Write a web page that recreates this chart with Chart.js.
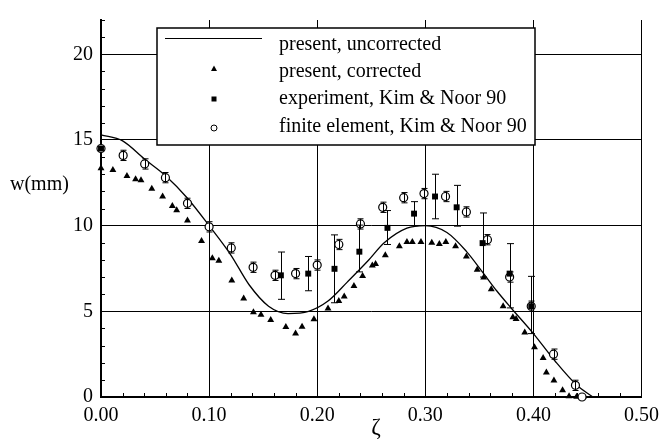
<!DOCTYPE html>
<html>
<head>
<meta charset="utf-8">
<script src="https://cdn.jsdelivr.net/npm/chart.js@4.4.1/dist/chart.umd.min.js"></script>
<style>
  html, body { margin: 0; padding: 0; background: #fff; }
  canvas { display: block; }
</style>
</head>
<body>
<canvas id="c" width="666" height="440"></canvas>
<script>
// ---- data ----
const xTickLabels = ['0.00', '0.10', '0.20', '0.30', '0.40', '0.50'];
const yTickValues = [0, 5, 10, 15, 20];

// present, uncorrected (solid line)
const xLine = [0.000, 0.020, 0.040, 0.060, 0.080, 0.100, 0.120, 0.137, 0.155, 0.173, 0.192, 0.210, 0.228, 0.247, 0.262, 0.283, 0.300, 0.320, 0.338, 0.354, 0.366, 0.380, 0.400, 0.420, 0.440, 0.455];
const yLine = [15.3, 14.95, 13.9, 12.9, 11.6, 10.0, 8.3, 6.55, 5.3, 4.87, 5.0, 5.6, 6.72, 7.95, 9.0, 9.85, 10.0, 9.6, 8.5, 7.2, 6.2, 5.15, 3.7, 2.1, 0.7, 0.0];

// present, corrected (triangles)
const xCorr = [0.000, 0.011, 0.024, 0.032, 0.037, 0.047, 0.057, 0.066, 0.070, 0.080, 0.093, 0.103, 0.109, 0.121, 0.132, 0.141, 0.148, 0.157, 0.171, 0.180, 0.186, 0.197, 0.210, 0.220, 0.225, 0.234, 0.242, 0.251, 0.254, 0.263, 0.276, 0.283, 0.288, 0.296, 0.306, 0.313, 0.319, 0.328, 0.338, 0.348, 0.354, 0.361, 0.372, 0.381, 0.384, 0.392, 0.401, 0.409, 0.412, 0.419, 0.427, 0.433, 0.440, 0.446];
const yCorr = [13.35, 13.25, 12.9, 12.7, 12.65, 12.15, 11.7, 11.15, 10.9, 10.3, 9.1, 8.1, 7.95, 6.8, 5.75, 4.95, 4.8, 4.5, 4.08, 3.7, 4.1, 4.53, 5.17, 5.6, 5.87, 6.48, 7.06, 7.67, 7.76, 8.27, 8.8, 9.05, 9.05, 9.05, 9.0, 8.93, 9.05, 8.8, 8.2, 7.42, 6.97, 6.29, 5.3, 4.65, 4.55, 3.76, 2.9, 2.28, 1.43, 0.96, 0.4, 0.05, 0.02, 0.0];

// experiment, Kim & Noor 90 (squares with error bars)
const xExp = [0.000, 0.1664, 0.1917, 0.216, 0.239, 0.265, 0.2896, 0.309, 0.329, 0.353, 0.378, 0.398];
const yExp = [14.5, 7.1, 7.2, 7.48, 8.48, 9.87, 10.7, 11.7, 11.07, 8.98, 7.2, 5.3];
const expLow = [14.5, 5.7, 6.2, 5.5, 7.3, 8.9, 10.0, 10.4, 9.97, 7.0, 5.2, 3.7];
const expHigh = [14.5, 8.46, 8.2, 9.46, 10.03, 10.88, 11.4, 13.0, 12.35, 10.74, 8.95, 7.04];

// finite element, Kim & Noor 90 (open circles with small error bars)
const xFE = [0.000, 0.0205, 0.0404, 0.0596, 0.080, 0.100, 0.1205, 0.1407, 0.161, 0.180, 0.200, 0.220, 0.240, 0.2606, 0.280, 0.2988, 0.3187, 0.338, 0.3575, 0.378, 0.398, 0.4186, 0.4389, 0.445];
const yFE = [14.5, 14.1, 13.6, 12.8, 11.3, 9.93, 8.7, 7.57, 7.1, 7.2, 7.7, 8.9, 10.1, 11.07, 11.63, 11.87, 11.7, 10.8, 9.18, 7.0, 5.3, 2.5, 0.68, 0.0];
const feErr = [0, 0.3, 0.3, 0.3, 0.3, 0.3, 0.3, 0.3, 0.3, 0.3, 0.3, 0.3, 0.3, 0.3, 0.3, 0.3, 0.3, 0.3, 0.3, 0.3, 0.3, 0.3, 0.3, 0];

const legendLabels = ['present, uncorrected', 'present, corrected', 'experiment, Kim & Noor 90', 'finite element, Kim & Noor 90'];
const yTitle = 'w(mm)';
const xTitle = 'ζ';

// ---- helpers ----
const pts = (xs, ys) => xs.map((x, i) => ({ x: x, y: ys[i] }));
const FONT = "'Liberation Serif', 'Times New Roman', Times, 'DejaVu Serif', serif";

const errorBars = {
  id: 'errorBars',
  afterDatasetsDraw(chart) {
    const ctx = chart.ctx, xs = chart.scales.x, ys = chart.scales.y;
    ctx.save();
    ctx.strokeStyle = '#000';
    ctx.lineWidth = 1;
    const bar = (x, lo, hi, cap) => {
      const px = Math.round(xs.getPixelForValue(x)) + 0.5;
      const p1 = ys.getPixelForValue(lo), p2 = ys.getPixelForValue(hi);
      ctx.beginPath();
      ctx.moveTo(px, p1); ctx.lineTo(px, p2);
      ctx.moveTo(px - cap, p1); ctx.lineTo(px + cap, p1);
      ctx.moveTo(px - cap, p2); ctx.lineTo(px + cap, p2);
      ctx.stroke();
    };
    xExp.forEach((x, i) => { if (expHigh[i] > expLow[i]) bar(x, expLow[i], expHigh[i], 3.5); });
    xFE.forEach((x, i) => { if (feErr[i] > 0) bar(x, yFE[i] - feErr[i], yFE[i] + feErr[i], 3); });
    ctx.restore();
  }
};

const decorations = {
  id: 'decorations',
  beforeDatasetsDraw(chart) {
    const ctx = chart.ctx, xs = chart.scales.x, ys = chart.scales.y, a = chart.chartArea;
    ctx.save();
    ctx.strokeStyle = '#000';
    ctx.lineWidth = 1;
    ctx.beginPath();
    // minor ticks on x axis (every 0.02), pointing up
    for (let k = 1; k < 25; k++) {
      if (k % 5 === 0) continue;
      const px = Math.round(xs.getPixelForValue(k * 0.02)) + 0.5;
      ctx.moveTo(px, a.bottom); ctx.lineTo(px, a.bottom - 4);
    }
    // minor ticks on y axis (every 1), pointing right
    for (let v = 1; v <= 22; v++) {
      if (v % 5 === 0) continue;
      const py = Math.round(ys.getPixelForValue(v)) + 0.5;
      ctx.moveTo(a.left, py); ctx.lineTo(a.left + 4, py);
    }
    ctx.stroke();
    ctx.restore();
  },
  afterDraw(chart) {
    const ctx = chart.ctx;
    ctx.save();
    // axis titles
    ctx.fillStyle = '#000';
    ctx.font = '20px ' + FONT;
    ctx.textAlign = 'left';
    ctx.textBaseline = 'alphabetic';
    ctx.fillText(yTitle, 10, 190);
    ctx.font = '23px ' + FONT;
    ctx.textAlign = 'center';
    ctx.fillText(xTitle, 376, 434);

    // legend box
    const L = 157, T = 28, R = 535, B = 145;
    ctx.fillStyle = '#fff';
    ctx.fillRect(L, T, R - L, B - T);
    ctx.strokeStyle = '#000';
    ctx.lineWidth = 1.5;
    ctx.strokeRect(L, T, R - L, B - T);

    const mx = 214;
    // line sample
    ctx.lineWidth = 1.2;
    ctx.beginPath(); ctx.moveTo(165, 38.5); ctx.lineTo(262, 38.5); ctx.stroke();
    // triangle
    ctx.fillStyle = '#000';
    ctx.beginPath();
    ctx.moveTo(mx, 65.5); ctx.lineTo(mx + 3, 71); ctx.lineTo(mx - 3, 71); ctx.closePath(); ctx.fill();
    // square
    ctx.fillRect(mx - 2.5, 96.5, 5, 5);
    // circle
    ctx.lineWidth = 1;
    ctx.beginPath(); ctx.arc(mx, 128, 3, 0, Math.PI * 2); ctx.stroke();

    ctx.font = '20px ' + FONT;
    ctx.textAlign = 'left';
    const base = [50, 77, 104, 132];
    legendLabels.forEach((t, i) => ctx.fillText(t, 279, base[i]));
    ctx.restore();
  }
};

new Chart(document.getElementById('c'), {
  type: 'scatter',
  data: {
    datasets: [
      {
        type: 'line',
        label: legendLabels[0],
        data: pts(xLine, yLine),
        borderColor: '#000',
        borderWidth: 1.3,
        pointRadius: 0,
        fill: false,
        cubicInterpolationMode: 'monotone',
        order: 4,
        clip: false
      },
      {
        label: legendLabels[1],
        data: pts(xCorr, yCorr),
        pointStyle: 'triangle',
        pointRadius: 4,
        backgroundColor: '#000',
        borderColor: '#000',
        borderWidth: 0,
        order: 3,
        clip: false
      },
      {
        label: legendLabels[2],
        data: pts(xExp, yExp),
        pointStyle: 'rect',
        pointRadius: 4.2,
        backgroundColor: '#000',
        borderColor: '#000',
        borderWidth: 0,
        order: 1,
        clip: false
      },
      {
        label: legendLabels[3],
        data: pts(xFE, yFE),
        pointStyle: 'circle',
        pointRadius: 4,
        backgroundColor: '#fff',
        borderColor: '#000',
        borderWidth: 1.2,
        order: 2,
        clip: false
      }
    ]
  },
  options: {
    responsive: false,
    animation: false,
    events: [],
    layout: { padding: { top: 8, right: 20, left: 0, bottom: 0 } },
    plugins: { legend: { display: false }, tooltip: { enabled: false } },
    scales: {
      x: {
        type: 'linear',
        min: 0, max: 0.5,
        afterFit: s => { s.height = 43; },
        afterBuildTicks: s => { s.ticks = xTickLabels.map(t => ({ value: parseFloat(t) })); },
        ticks: {
          callback: (v, i) => xTickLabels[i],
          color: '#000',
          font: { family: FONT, size: 20 },
          padding: 7,
          maxRotation: 0,
          autoSkip: false
        },
        grid: { color: '#000', lineWidth: 1, drawTicks: false },
        border: { display: true, color: '#000', width: 2 }
      },
      y: {
        type: 'linear',
        min: 0, max: 22,
        afterFit: s => { s.width = 101; },
        afterBuildTicks: s => { s.ticks = yTickValues.map(v => ({ value: v })); },
        ticks: {
          callback: v => String(v),
          color: '#000',
          font: { family: FONT, size: 20 },
          padding: 8,
          autoSkip: false
        },
        grid: { color: '#000', lineWidth: 1, drawTicks: false },
        border: { display: true, color: '#000', width: 2 }
      }
    }
  },
  plugins: [decorations, errorBars]
});
</script>
</body>
</html>
